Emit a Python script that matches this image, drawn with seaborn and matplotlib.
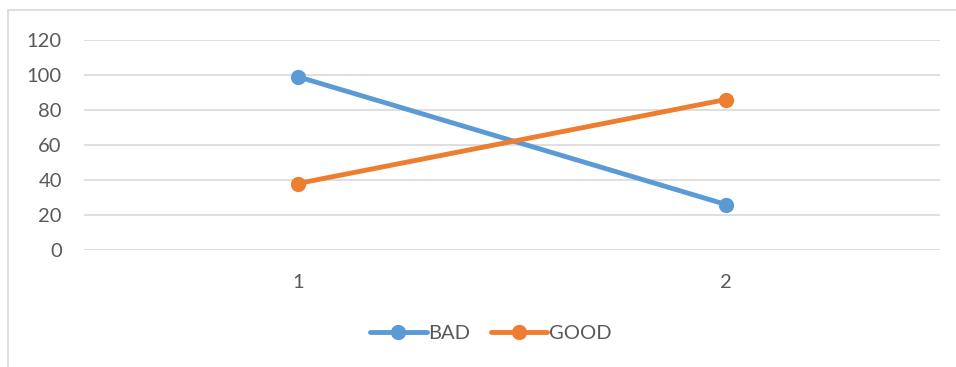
import matplotlib
matplotlib.use("Agg")
import matplotlib.pyplot as plt
import seaborn as sns
import pandas as pd
from matplotlib.patches import Rectangle

categories = ["1", "2"]
bad = [99, 26]
good = [38, 86]
series_names = ["BAD", "GOOD"]
colors = ["#5B9BD5", "#ED7D31"]
yticks = [0, 20, 40, 60, 80, 100, 120]

df = pd.DataFrame({
    "x": categories * 2,
    "value": bad + good,
    "series": [series_names[0]] * len(categories) + [series_names[1]] * len(categories),
})

sns.set_theme(style="white")
plt.rcParams["font.family"] = ["Lato", "DejaVu Sans"]

W, H = 956, 367
fig = plt.figure(figsize=(W / 100, H / 100), dpi=100)
ax = fig.add_axes([84 / W, 1 - 250 / H, (940 - 84) / W, (250 - 40) / H])

# chart frame (partially cropped)
fig.patches.append(Rectangle((8 / W, -0.1), 1.2, 1 - 10 / H + 0.1, transform=fig.transFigure,
                             fill=False, edgecolor="#D9D9D9", linewidth=1.2, zorder=0))

sns.lineplot(data=df, x="x", y="value", hue="series", palette=colors, marker="o",
             markersize=11, markeredgewidth=0, linewidth=3.5, ax=ax, legend=True, sort=False)

ax.set_xlim(-0.5, 1.5)
ax.set_ylim(0, 120)
ax.set_yticks(yticks)
ax.set_yticklabels([str(v) for v in yticks])
ax.set_xlabel("")
ax.set_ylabel("")
for s in ax.spines.values():
    s.set_visible(False)
ax.yaxis.grid(True, color="#D9D9D9", linewidth=1.2)
ax.xaxis.grid(False)
ax.set_axisbelow(True)
ax.tick_params(axis="y", length=0, pad=16, labelsize=14.5, labelcolor="#595959")
ax.tick_params(axis="x", length=0, pad=17, labelsize=14.5, labelcolor="#595959")

handles, labels = ax.get_legend_handles_labels()
ax.get_legend().remove()
leg = fig.legend(handles, labels, loc="center", bbox_to_anchor=(491 / W, 1 - 333 / H), ncol=2,
                 frameon=False, fontsize=14.5, handlelength=2.8, handletextpad=0.1,
                 columnspacing=1.0)
for t in leg.get_texts():
    t.set_color("#595959")

fig.savefig("out.png", dpi=100)
